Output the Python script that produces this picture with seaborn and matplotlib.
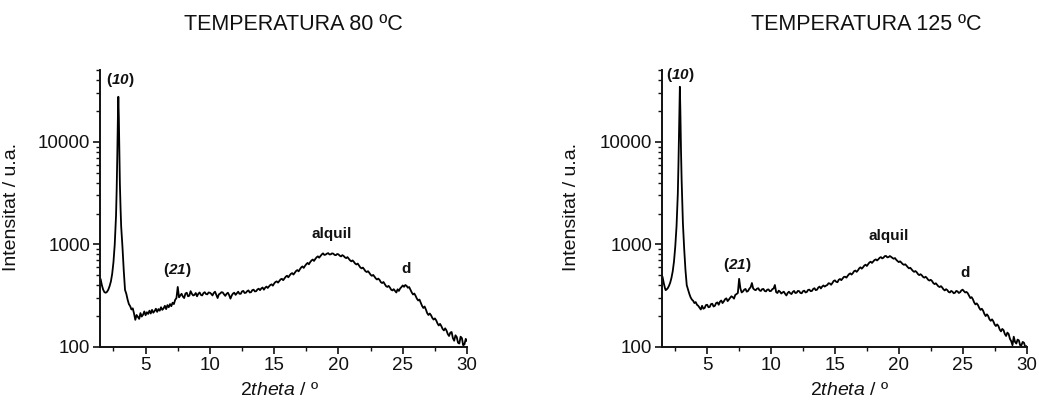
import matplotlib
matplotlib.use("Agg")
import matplotlib.pyplot as plt
import seaborn as sns
import pandas as pd
from matplotlib.ticker import MultipleLocator, LogLocator, NullFormatter, FuncFormatter

sns.set_theme(style="ticks")
plt.rcParams["font.family"] = ["Liberation Sans", "DejaVu Sans"]
plt.rcParams["mathtext.fontset"] = "custom"
plt.rcParams["mathtext.rm"] = "Liberation Sans"
plt.rcParams["mathtext.it"] = "Liberation Sans:italic"
plt.rcParams["mathtext.bf"] = "Liberation Sans:bold"
plt.rcParams["mathtext.bfit"] = "Liberation Sans:italic:bold"

# ---- XRD scans (2theta in degrees, intensity in arbitrary units) ----
# low-angle region around the (10) reflection
peak_theta_80 = [1.5, 1.6, 1.7, 1.8, 1.9, 2.0, 2.1, 2.2, 2.3, 2.4, 2.5, 2.6, 2.7,
                 2.75, 2.8, 2.85, 2.88, 2.92, 2.96, 3.0, 3.05, 3.1, 3.2, 3.3, 3.4]
peak_int_80 = [460, 400, 362, 342, 338, 345, 362, 392, 435, 515, 670, 1000, 1900,
               3400, 7500, 19000, 27500, 17000, 7600, 3900, 2300, 1500, 950, 560, 360]

peak_theta_125 = [1.5, 1.6, 1.7, 1.75, 1.8, 1.9, 2.0, 2.1, 2.2, 2.3, 2.4, 2.5, 2.6,
                  2.7, 2.75, 2.8, 2.86, 2.9, 2.95, 3.0, 3.05, 3.1, 3.2, 3.3, 3.4]
peak_int_125 = [485, 420, 372, 358, 362, 372, 392, 422, 470, 545, 680, 950, 1500,
                3100, 6000, 14000, 34400, 20000, 8200, 4200, 2500, 1600, 900, 560, 400]

# wide-angle region, 0.1 degree step, shared by both scans
scan_theta = [
    3.5, 3.6, 3.7, 3.8, 3.9, 4.0, 4.1, 4.2, 4.3, 4.4,
    4.5, 4.6, 4.7, 4.8, 4.9, 5.0, 5.1, 5.2, 5.3, 5.4,
    5.5, 5.6, 5.7, 5.8, 5.9, 6.0, 6.1, 6.2, 6.3, 6.4,
    6.5, 6.6, 6.7, 6.8, 6.9, 7.0, 7.1, 7.2, 7.3, 7.4,
    7.5, 7.6, 7.7, 7.8, 7.9, 8.0, 8.1, 8.2, 8.3, 8.4,
    8.5, 8.6, 8.7, 8.8, 8.9, 9.0, 9.1, 9.2, 9.3, 9.4,
    9.5, 9.6, 9.7, 9.8, 9.9, 10.0, 10.1, 10.2, 10.3, 10.4,
    10.5, 10.6, 10.7, 10.8, 10.9, 11.0, 11.1, 11.2, 11.3, 11.4,
    11.5, 11.6, 11.7, 11.8, 11.9, 12.0, 12.1, 12.2, 12.3, 12.4,
    12.5, 12.6, 12.7, 12.8, 12.9, 13.0, 13.1, 13.2, 13.3, 13.4,
    13.5, 13.6, 13.7, 13.8, 13.9, 14.0, 14.1, 14.2, 14.3, 14.4,
    14.5, 14.6, 14.7, 14.8, 14.9, 15.0, 15.1, 15.2, 15.3, 15.4,
    15.5, 15.6, 15.7, 15.8, 15.9, 16.0, 16.1, 16.2, 16.3, 16.4,
    16.5, 16.6, 16.7, 16.8, 16.9, 17.0, 17.1, 17.2, 17.3, 17.4,
    17.5, 17.6, 17.7, 17.8, 17.9, 18.0, 18.1, 18.2, 18.3, 18.4,
    18.5, 18.6, 18.7, 18.8, 18.9, 19.0, 19.1, 19.2, 19.3, 19.4,
    19.5, 19.6, 19.7, 19.8, 19.9, 20.0, 20.1, 20.2, 20.3, 20.4,
    20.5, 20.6, 20.7, 20.8, 20.9, 21.0, 21.1, 21.2, 21.3, 21.4,
    21.5, 21.6, 21.7, 21.8, 21.9, 22.0, 22.1, 22.2, 22.3, 22.4,
    22.5, 22.6, 22.7, 22.8, 22.9, 23.0, 23.1, 23.2, 23.3, 23.4,
    23.5, 23.6, 23.7, 23.8, 23.9, 24.0, 24.1, 24.2, 24.3, 24.4,
    24.5, 24.6, 24.7, 24.8, 24.9, 25.0, 25.1, 25.2, 25.3, 25.4,
    25.5, 25.6, 25.7, 25.8, 25.9, 26.0, 26.1, 26.2, 26.3, 26.4,
    26.5, 26.6, 26.7, 26.8, 26.9, 27.0, 27.1, 27.2, 27.3, 27.4,
    27.5, 27.6, 27.7, 27.8, 27.9, 28.0, 28.1, 28.2, 28.3, 28.4,
    28.5, 28.6, 28.7, 28.8, 28.9, 29.0, 29.1, 29.2, 29.3, 29.4,
    29.5, 29.6, 29.7, 29.8, 29.9, 30.0,
]

scan_int_80 = [
    330, 290, 262, 250, 232, 238, 212, 184, 205, 196,
    188, 214, 198, 206, 222, 204, 218, 210, 226, 212,
    230, 216, 224, 236, 220, 234, 226, 244, 230, 238,
    252, 234, 256, 244, 262, 250, 270, 262, 288, 300,
    385, 305, 318, 330, 310, 300, 332, 338, 312, 316,
    350, 330, 318, 322, 336, 312, 330, 340, 322, 318,
    335, 342, 328, 326, 340, 338, 330, 318, 336, 346,
    322, 300, 326, 332, 342, 340, 326, 315, 330, 338,
    320, 296, 318, 332, 338, 322, 334, 346, 330, 330,
    348, 352, 336, 338, 350, 356, 340, 342, 358, 362,
    348, 350, 364, 370, 358, 372, 380, 362, 378, 388,
    376, 390, 402, 408, 396, 416, 430, 436, 424, 440,
    456, 462, 448, 466, 484, 495, 478, 498, 516, 525,
    508, 528, 550, 562, 546, 572, 596, 610, 590, 618,
    642, 660, 640, 672, 696, 712, 690, 722, 748, 765,
    742, 770, 798, 818, 790, 795, 812, 822, 798, 800,
    818, 812, 790, 785, 806, 800, 776, 764, 786, 772,
    748, 735, 752, 726, 700, 684, 698, 676, 650, 638,
    650, 622, 596, 584, 594, 572, 548, 538, 548, 528,
    506, 494, 504, 486, 466, 455, 464, 450, 428, 420,
    430, 410, 392, 385, 394, 380, 362, 356, 366, 352,
    340, 365, 352, 372, 384, 398, 386, 402, 394, 378,
    384, 362, 340, 325, 332, 315, 296, 284, 290, 270,
    252, 240, 248, 232, 214, 205, 212, 204, 192, 185,
    190, 182, 170, 162, 168, 160, 150, 145, 152, 145,
    134, 128, 138, 140, 122, 115, 130, 125, 110, 108,
    126, 122, 104, 106, 120, 114,
]

scan_int_125 = [
    362, 330, 305, 290, 282, 268, 274, 258, 252, 242,
    232, 252, 236, 240, 256, 258, 244, 246, 262, 264,
    248, 252, 268, 272, 258, 276, 284, 268, 278, 292,
    298, 280, 290, 302, 312, 306, 296, 322, 328, 336,
    462, 372, 340, 348, 362, 368, 346, 352, 370, 382,
    420, 372, 362, 358, 370, 374, 356, 352, 366, 368,
    352, 348, 362, 364, 350, 352, 366, 372, 402, 342,
    336, 354, 346, 332, 340, 346, 330, 318, 336, 346,
    334, 328, 344, 352, 336, 338, 352, 350, 336, 334,
    350, 354, 340, 344, 360, 362, 350, 352, 368, 374,
    358, 362, 380, 388, 372, 388, 398, 388, 396, 402,
    418, 416, 404, 420, 440, 446, 432, 428, 452, 460,
    448, 464, 482, 484, 474, 494, 512, 522, 508, 524,
    548, 556, 540, 558, 584, 598, 580, 598, 622, 634,
    616, 642, 666, 678, 660, 682, 704, 714, 698, 716,
    740, 752, 730, 742, 768, 772, 748, 752, 770, 756,
    738, 725, 736, 708, 688, 672, 684, 665, 644, 632,
    640, 622, 600, 584, 592, 572, 552, 540, 550, 536,
    514, 502, 512, 500, 482, 474, 484, 470, 452, 444,
    452, 440, 420, 410, 418, 404, 390, 384, 392, 380,
    364, 356, 366, 358, 344, 340, 352, 346, 334, 338,
    352, 348, 336, 342, 356, 362, 350, 340, 344, 334,
    316, 300, 306, 292, 272, 260, 266, 256, 240, 230,
    236, 226, 210, 200, 208, 200, 186, 180, 186, 178,
    166, 160, 166, 160, 148, 142, 150, 146, 134, 128,
    138, 134, 120, 114, 104, 126, 112, 108, 118, 116,
    104, 104, 112, 110, 100, 102,
]

panel_titles = ["TEMPERATURA 80 ºC", "TEMPERATURA 125 ºC"]
x_ticks = [5, 10, 15, 20, 25, 30]
y_ticks = [100, 1000, 10000]
peak_labels = [r"($\mathbfit{10}$)", r"($\mathbfit{21}$)", "alquil", "d"]

scans = [
    pd.DataFrame({"2theta": peak_theta_80 + scan_theta,
                  "intensitat": peak_int_80 + scan_int_80}),
    pd.DataFrame({"2theta": peak_theta_125 + scan_theta,
                  "intensitat": peak_int_125 + scan_int_125}),
]

# ---- figure layout ----
fig = plt.figure(figsize=(10.39, 4.03), dpi=100)
axes = [
    fig.add_axes([0.0962, 0.139, 0.3533, 0.687]),
    fig.add_axes([0.637, 0.139, 0.351, 0.687]),
]
title_x = [0.282, 0.834]
label_pos = [
    [(3.0, 40000), (7.42, 560), (19.5, 1275), (25.26, 580)],
    [(2.9, 44600), (7.34, 626), (19.19, 1210), (25.18, 527)],
]
ylabel_x = [-0.218, -0.224]
xlabel_x = [0.49, 0.516]

ink = "#111111"
for i, ax in enumerate(axes):
    sns.lineplot(data=scans[i], x="2theta", y="intensitat", ax=ax,
                 color="black", linewidth=1.3, estimator=None)
    ax.set_yscale("log")
    ax.set_xlim(1.45, 30)
    ax.set_ylim(100, 50000)
    ax.set_xticks(x_ticks)
    ax.xaxis.set_minor_locator(MultipleLocator(2.5))
    ax.set_yticks(y_ticks)
    ax.yaxis.set_major_formatter(FuncFormatter(lambda v, p: f"{int(round(v))}"))
    ax.yaxis.set_minor_locator(LogLocator(base=10, subs=range(2, 10)))
    ax.yaxis.set_minor_formatter(NullFormatter())
    for side in ("top", "right"):
        ax.spines[side].set_visible(False)
    for side in ("left", "bottom"):
        ax.spines[side].set_linewidth(1.4)
        ax.spines[side].set_color(ink)
    ax.tick_params(which="major", length=5, width=1.2, color=ink,
                   labelsize=13.5, labelcolor=ink, pad=2)
    ax.tick_params(which="minor", length=3, width=1.0, color=ink)

    ax.set_ylabel("Intensitat / u.a.", fontsize=14, color=ink)
    ax.yaxis.set_label_coords(ylabel_x[i], 0.505)
    ax.set_xlabel(r"2$\mathit{theta}$ / º", fontsize=14, color=ink)
    ax.xaxis.set_label_coords(xlabel_x[i], -0.125)

    for text, (lx, ly) in zip(peak_labels, label_pos[i]):
        ax.text(lx, ly, text, ha="center", va="center", fontsize=11,
                fontweight="bold", color=ink)

    fig.text(title_x[i], 0.939, panel_titles[i], ha="center", va="center",
             fontsize=15.5, color=ink)

fig.savefig("out.png", dpi=100)
